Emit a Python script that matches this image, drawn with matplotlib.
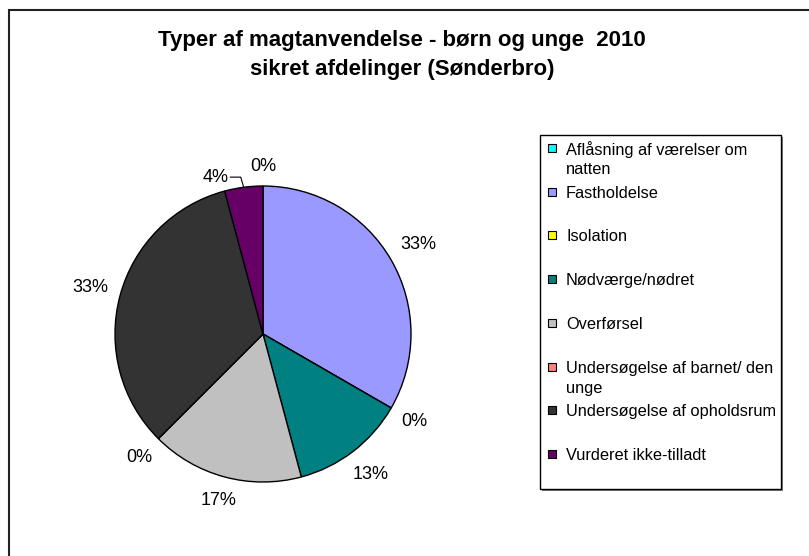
import matplotlib
matplotlib.use("Agg")
import matplotlib.pyplot as plt
from matplotlib.patches import Rectangle
import numpy as np

plt.rcParams['font.family'] = ['Liberation Sans', 'DejaVu Sans']

# ---- data ----
categories = [
    "Aflåsning af værelser om\nnatten",
    "Fastholdelse",
    "Isolation",
    "Nødværge/nødret",
    "Overførsel",
    "Undersøgelse af barnet/ den\nunge",
    "Undersøgelse af opholdsrum",
    "Vurderet ikke-tilladt",
]
counts = [0, 8, 0, 3, 4, 0, 8, 1]
colors = ["#00FFFF", "#9999FF", "#FFFF00", "#008080",
          "#C0C0C0", "#FF8080", "#333333", "#660066"]
title_lines = ["Typer af magtanvendelse - børn og unge  2010",
               "sikret afdelinger (Sønderbro)"]

W, H = 809, 556
fig = plt.figure(figsize=(W / 100, H / 100), dpi=100)

# outer chart border
fig.add_artist(Rectangle((9 / W, -0.1), 1.2, (H - 10) / H + 0.1,
                         transform=fig.transFigure, fill=False,
                         edgecolor="#222222", lw=1.5))

# pie axes: center (263, 334) px, radius 148 px
R = 148
cx, cy = 263, 334
half = 1.5 * R
ax = fig.add_axes([(cx - half) / W, (H - cy - half) / H, 2 * half / W, 2 * half / H])
total = sum(counts)
pcts = [f"{int(100 * c / total + 0.5):d}%" for c in counts]
wedges, texts = ax.pie(counts, colors=colors, startangle=90, counterclock=False,
                       labels=pcts, labeldistance=1.1,
                       wedgeprops=dict(edgecolor="black", linewidth=1.0),
                       textprops=dict(fontsize=13))
ax.set_xlim(-1.5, 1.5)
ax.set_ylim(-1.5, 1.5)
ax.set_aspect("equal")

fig.canvas.draw()
renderer = fig.canvas.get_renderer()
base = 1.075
for i, (w, t) in enumerate(zip(wedges, texts)):
    mid = np.deg2rad((w.theta1 + w.theta2) / 2)
    c, s = np.cos(mid), np.sin(mid)
    bb = t.get_window_extent(renderer)
    hw, hh = bb.width / 2, bb.height / 2
    ext = (abs(c) * hw + abs(s) * hh) / R
    t.set_ha("center")
    t.set_va("center")
    if i == 7:
        # label moved aside with a leader line
        ly = 1.06
        lx_end = c - 0.09
        t.set_position((lx_end - hw / R - 0.01, ly))
        ax.plot([c, c - 0.02, lx_end], [s, ly, ly], color="black", lw=0.8)
    else:
        d = base + ext
        t.set_position((d * c, d * s))

# title
for k, line in enumerate(title_lines):
    fig.text(402 / W, 1 - (46 + 29 * k) / H, line, ha="center", va="baseline",
             fontsize=16, fontweight="bold")

# legend box
lx0, ly0, lx1, ly1 = 540, 135, 781, 489
fig.add_artist(Rectangle(((lx0 + 2) / W, 1 - (ly1 + 2) / H), (lx1 - lx0) / W, (ly1 - ly0) / H,
                         transform=fig.transFigure, facecolor="#808080", edgecolor="none"))
fig.add_artist(Rectangle((lx0 / W, 1 - ly1 / H), (lx1 - lx0) / W, (ly1 - ly0) / H,
                         transform=fig.transFigure, facecolor="white", edgecolor="black", lw=1.0))
step = 43.7
for i, (lab, col) in enumerate(zip(categories, colors)):
    y = 148 + i * step
    fig.add_artist(Rectangle((548 / W, 1 - (y + 4) / H), 8 / W, 8 / H,
                             transform=fig.transFigure, facecolor=col,
                             edgecolor="black", lw=0.8))
    for j, part in enumerate(lab.split("\n")):
        fig.text(566 / W, 1 - (y + 20.5 * j) / H, part, ha="left",
                 va="center_baseline", fontsize=11.8)

fig.savefig("out.png", dpi=100)
